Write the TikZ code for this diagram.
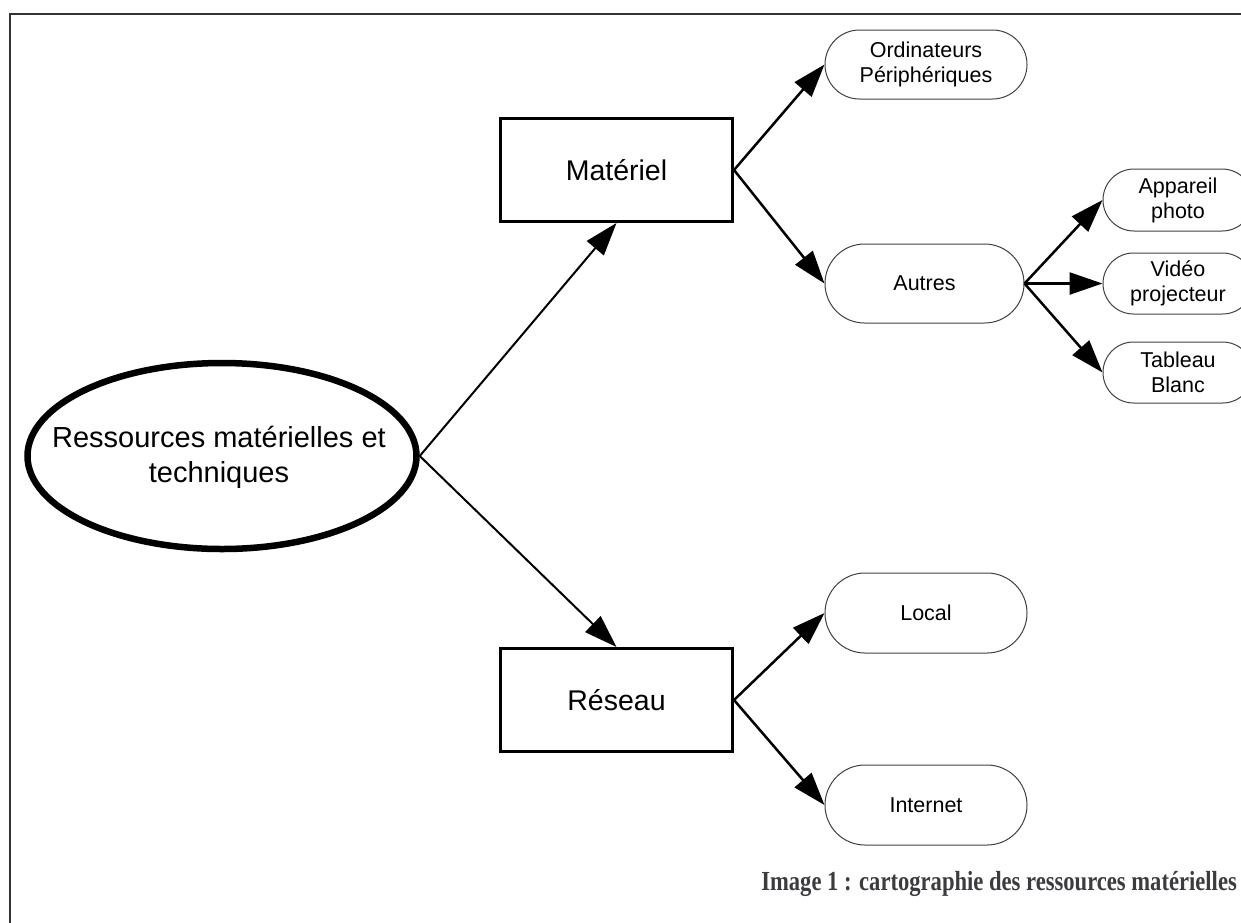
\documentclass[tikz,border=0pt]{standalone}
\usepackage{fontspec}
\setmainfont{Liberation Serif}
\setsansfont{Liberation Sans}
\usepackage{tikz}
\usetikzlibrary{arrows.meta,positioning,shapes.geometric,shapes.misc}

\definecolor{framegray}{RGB}{52,52,56}
\definecolor{capgray}{RGB}{60,60,64}

\begin{document}
\begin{tikzpicture}[
    x = 1pt, y = -1pt,
    >={Triangle[length=33pt,width=22pt]},
    ressource/.style = {
      draw,
      ellipse,
      line width = 6.5pt,
      inner sep = 0pt,
      minimum width = 389pt,
      minimum height = 186pt},
    grostexte/.style = {
      align = center,
      inner sep = 0pt,
      font = \sffamily\fontsize{29}{35}\selectfont},
    branche/.style = {
      draw,
      rectangle,
      line width = 3pt,
      minimum width = 232pt,
      minimum height = 103pt,
      font = \sffamily\fontsize{28.5}{34}\selectfont},
    feuille/.style = {
      draw = black!75,
      rounded rectangle,
      line width = 1pt,
      inner sep = 0pt,
      align = center,
      font = \sffamily\fontsize{21.5}{25}\selectfont},
    lien/.style = {->, line width = 2.5pt},
    grandlien/.style = {->, line width = 2pt}
      ]
  \clip (0,0) rectangle (1241,922);

  % cadre
  \draw[framegray, line width=2.2pt] (10,930) -- (10,14) -- (1250,14);

  % racine
  \node[ressource] (res) at (222,456) {};
  \node[grostexte] (restxt) at (219,457) {Ressources matérielles et\\techniques};

  % branches
  \node[branche] (mat) at (616.5,170) {Matériel};
  \node[branche] (rez) at (616.5,700) {Réseau};

  % feuilles
  \node[feuille, minimum width=202pt, minimum height=69pt] (ord) at (926,64.5) {Ordinateurs\\Périphériques};
  \node[feuille, minimum width=199pt, minimum height=79pt] (aut) at (924.5,283.5) {Autres};
  \node[feuille, minimum width=202pt, minimum height=80pt] (loc) at (926,613) {Local};
  \node[feuille, minimum width=202pt, minimum height=80pt] (int) at (926,805) {Internet};
  \node[feuille, minimum width=150pt, minimum height=62pt] (app) at (1178,200) {Appareil\\photo};
  \node[feuille, minimum width=150pt, minimum height=61pt] (vid) at (1178,283.5) {Vidéo\\projecteur};
  \node[feuille, minimum width=150pt, minimum height=61pt] (tab) at (1178,372.5) {Tableau\\Blanc};

  % fleches
  \draw[grandlien] (res.east) -- (mat.south);
  \draw[grandlien] (res.east) -- (rez.north);
  \draw[lien] (mat.east) -- (ord.west);
  \draw[lien] (mat.east) -- (aut.west);
  \draw[lien] (rez.east) -- (loc.west);
  \draw[lien] (rez.east) -- (int.west);
  \foreach \f in {app,vid,tab}
    \draw[lien] (aut.east) -- (\f.west);

  % legende
  \node[anchor=base east, inner sep=0pt, text=capgray, font=\bfseries\fontsize{22.6}{27}\selectfont] (cap) at (1237,890) {\scalebox{1}[1.22]{Image 1 : cartographie des ressources matérielles}};

\end{tikzpicture}
\end{document}
